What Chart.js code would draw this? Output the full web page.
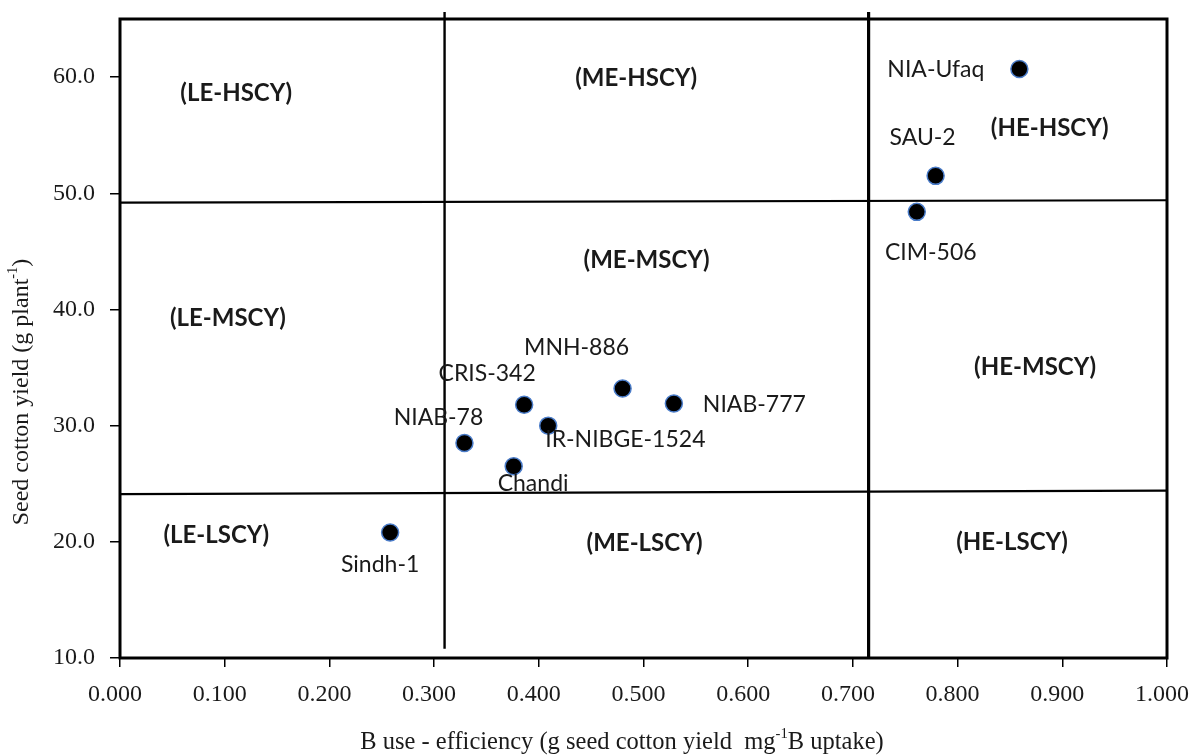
<!DOCTYPE html>
<html>
<head>
<meta charset="utf-8">
<script src="https://cdn.jsdelivr.net/npm/chart.js@4.4.1/dist/chart.umd.min.js"></script>
<style>
  html, body { margin: 0; padding: 0; background: #fff; }
  #wrap { width: 1190px; height: 756px; position: relative; }
</style>
</head>
<body>
<div id="wrap"><canvas id="quadChart"></canvas></div>
<script>
    // Genotypes: B use-efficiency vs seed cotton yield
    var genotypes = ['Sindh-1', 'NIAB-78', 'Chandi', 'CRIS-342', 'IR-NIBGE-1524', 'MNH-886', 'NIAB-777', 'CIM-506', 'SAU-2', 'NIA-Ufaq'];
    var useEfficiency = [0.258, 0.329, 0.376, 0.386, 0.409, 0.480, 0.529, 0.761, 0.779, 0.859];
    var seedYield = [20.8, 28.5, 26.5, 31.8, 30.0, 33.2, 31.9, 48.4, 51.5, 60.7];

    // Axis ticks
    var xTicks = [0.0, 0.1, 0.2, 0.3, 0.4, 0.5, 0.6, 0.7, 0.8, 0.9, 1.0];
    var yTicks = [10, 20, 30, 40, 50, 60];

    // Quadrant cut-offs (efficiency: low / medium / high, yield: low / medium / high)
    var effCuts = [0.31, 0.715];
    var effCutSpan = [[10.8, 65.6], [10, 65.6]];
    var yieldCutsLeft = [49.2, 24.1];
    var yieldCutsRight = [49.4, 24.4];

    // Zone names
    var zoneNames = ['(LE-HSCY)', '(ME-HSCY)', '(HE-HSCY)', '(LE-MSCY)', '(ME-MSCY)', '(HE-MSCY)', '(LE-LSCY)', '(ME-LSCY)', '(HE-LSCY)'];

    // where the zone names sit, in axis units
    var zoneAt = [[0.111, 58.6], [0.493, 59.9], [0.888, 55.6], [0.103, 39.2], [0.503, 44.2], [0.874, 35.0], [0.092, 20.6], [0.501, 19.9], [0.852, 20.0]];
    // point name offsets from the marker, in pixels
    var nameOffset = [[-10, 32, 'center'], [-26, -25, 'center'], [-16, 17, 'left'], [-37, -31, 'center'], [-3, 14, 'left'],
                      [-46, -41, 'center'], [29, 1, 'left'], [14, 41, 'center'], [-13, -38, 'center'], [-35, 1, 'right']];

    var cutLines = [];
    effCuts.forEach(function (c, i) {
        cutLines.push({
            type: 'line',
            data: [{ x: c, y: effCutSpan[i][0] }, { x: c, y: effCutSpan[i][1] }],
            borderColor: '#000',
            borderWidth: i === 1 ? 3.2 : 2.4,
            pointRadius: 0,
            clip: false,
            order: 2
        });
    });
    yieldCutsLeft.forEach(function (c, i) {
        cutLines.push({
            type: 'line',
            data: [{ x: 0, y: c }, { x: 1, y: yieldCutsRight[i] }],
            borderColor: '#000',
            borderWidth: 2.2,
            pointRadius: 0,
            order: 2
        });
    });

    function drawRich(ctx, parts, size, cx, cy) {
        var widths = parts.map(function (p) {
            ctx.font = (p.sup ? size * 0.6 : size) + 'px "Liberation Serif"';
            return ctx.measureText(p.t).width;
        });
        var total = widths.reduce(function (a, b) { return a + b; }, 0);
        var x = cx - total / 2;
        parts.forEach(function (p, i) {
            ctx.font = (p.sup ? size * 0.6 : size) + 'px "Liberation Serif"';
            ctx.fillText(p.t, x, p.sup ? cy - size * 0.38 : cy);
            x += widths[i];
        });
    }

    var decorations = {
        id: 'decorations',
        beforeDatasetsDraw: function (chart) {
            var ctx = chart.ctx, a = chart.chartArea;
            ctx.save();
            ctx.strokeStyle = '#000';
            ctx.lineWidth = 3;
            ctx.strokeRect(a.left, a.top, a.right - a.left, a.bottom - a.top);
            ctx.restore();
        },
        afterDatasetsDraw: function (chart) {
            var ctx = chart.ctx;
            var xs = chart.scales.x, ys = chart.scales.y;
            ctx.save();
            ctx.fillStyle = '#1a1a1a';
            ctx.textBaseline = 'middle';

            // zone names
            ctx.font = 'bold 24px Lato';
            ctx.textAlign = 'center';
            zoneNames.forEach(function (n, i) {
                ctx.fillText(n, xs.getPixelForValue(zoneAt[i][0]), ys.getPixelForValue(zoneAt[i][1]));
            });

            // genotype names
            ctx.font = '23px Lato';
            genotypes.forEach(function (g, i) {
                var px = xs.getPixelForValue(useEfficiency[i]);
                var py = ys.getPixelForValue(seedYield[i]);
                ctx.textAlign = nameOffset[i][2];
                ctx.fillText(g, px + nameOffset[i][0], py + nameOffset[i][1]);
            });

            // axis titles
            ctx.textAlign = 'left';
            drawRich(ctx, [{ t: 'B use - efficiency (g seed cotton yield  mg' }, { t: '-1', sup: true }, { t: 'B uptake)' }], 24.5, 622, 743);
            ctx.translate(22, 392);
            ctx.rotate(-Math.PI / 2);
            drawRich(ctx, [{ t: 'Seed cotton yield (g plant' }, { t: '-1', sup: true }, { t: ')' }], 24, 0, 0);
            ctx.restore();
        }
    };

    var ctxQuad = document.getElementById('quadChart').getContext('2d');
    new Chart(ctxQuad, {
        type: 'scatter',
        data: {
            datasets: [{
                label: 'Genotypes',
                data: useEfficiency.map(function (v, i) { return { x: v, y: seedYield[i] }; }),
                backgroundColor: '#000',
                borderColor: '#4a7cc9',
                borderWidth: 1.5,
                pointRadius: 8.5,
                order: 0
            }].concat(cutLines)
        },
        options: {
            responsive: true,
            maintainAspectRatio: false,
            animation: false,
            layout: { padding: { top: 19, right: 23, left: 0, bottom: 0 } },
            scales: {
                x: {
                    type: 'linear',
                    min: 0,
                    max: 1,
                    afterBuildTicks: function (s) { s.ticks = xTicks.map(function (v) { return { value: v }; }); },
                    afterFit: function (s) { s.height = 98; s.paddingLeft = 0; s.paddingRight = 0; },
                    ticks: {
                        callback: function (v) { return Number(v).toFixed(3); },
                        font: { family: 'Liberation Serif', size: 24 },
                        color: '#1a1a1a',
                        padding: 13,
                        labelOffset: -5,
                        maxRotation: 0
                    },
                    grid: { drawOnChartArea: false, drawTicks: true, tickLength: 9, color: '#000', lineWidth: 1.5 },
                    border: { display: false }
                },
                y: {
                    type: 'linear',
                    min: 10,
                    max: 65,
                    afterBuildTicks: function (s) { s.ticks = yTicks.map(function (v) { return { value: v }; }); },
                    afterFit: function (s) { s.width = 120; s.paddingTop = 0; s.paddingBottom = 0; },
                    ticks: {
                        callback: function (v) { return Number(v).toFixed(1); },
                        font: { family: 'Liberation Serif', size: 24 },
                        color: '#1a1a1a',
                        padding: 15
                    },
                    grid: { drawOnChartArea: false, drawTicks: true, tickLength: 10, color: '#000', lineWidth: 1.5 },
                    border: { display: false }
                }
            },
            plugins: {
                legend: { display: false },
                tooltip: { enabled: false }
            }
        },
        plugins: [decorations]
    });
</script>
</body>
</html>
